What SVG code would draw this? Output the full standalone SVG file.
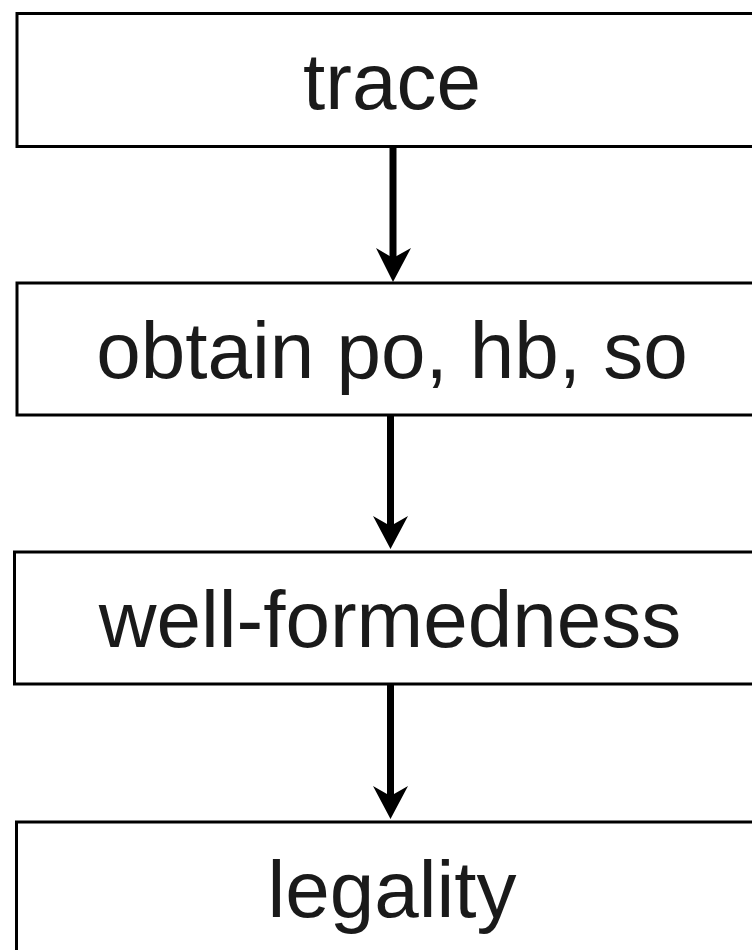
<svg xmlns="http://www.w3.org/2000/svg" width="752" height="950" viewBox="0 0 752 950">
  <style>
    .box { fill: #ffffff; stroke: #000000; stroke-width: 3; }
    .label { font-family: "Liberation Sans", Arial, sans-serif; font-size: 80px; fill: #1a1a1a; text-anchor: middle; }
    .shaft { stroke: #000000; stroke-width: 7; fill: none; }
    .head { fill: #000000; stroke: none; }
  </style>
  <rect width="752" height="950" fill="#ffffff"/>

  <g id="node-trace">
    <rect class="box" x="17" y="13.5" width="770" height="133"/>
    <text class="label" x="392" y="109">trace</text>
  </g>

  <g id="node-obtain">
    <rect class="box" x="17" y="283" width="770" height="132"/>
    <text class="label" x="392" y="378">obtain po, hb, so</text>
  </g>

  <g id="node-wellformedness">
    <rect class="box" x="14.5" y="552" width="770" height="132"/>
    <text class="label" x="390" y="647">well-formedness</text>
  </g>

  <g id="node-legality">
    <rect class="box" x="16.5" y="822" width="770" height="140"/>
    <text class="label" x="392" y="917">legality</text>
  </g>

  <g id="connectors">
    <line class="shaft" x1="393" y1="148" x2="393" y2="262"/>
    <path class="head" d="M393,282 L376,248 L393,258 L411,248 Z"/>

    <line class="shaft" x1="390.5" y1="416" x2="390.5" y2="530"/>
    <path class="head" d="M390.5,549 L373,516 L390.5,526 L408,516 Z"/>

    <line class="shaft" x1="390.5" y1="685" x2="390.5" y2="800"/>
    <path class="head" d="M390.5,819 L373,786 L390.5,796 L408,786 Z"/>
  </g>
</svg>
